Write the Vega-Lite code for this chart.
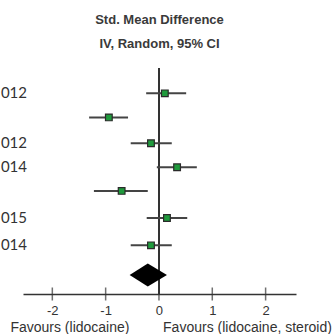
{
  "$schema": "https://vega.github.io/schema/vega-lite/v6.json",
  "autosize": "none",
  "width": 273,
  "height": 226,
  "padding": {"left": 23, "top": 68, "right": 40, "bottom": 40},
  "background": "white",
  "title": {
    "text": "Std. Mean Difference",
    "subtitle": "IV, Random, 95% CI",
    "anchor": "middle",
    "font": "Liberation Sans",
    "fontSize": 13,
    "fontWeight": "bold",
    "color": "#3a3a3a",
    "subtitleFont": "Liberation Sans",
    "subtitleFontSize": 13,
    "subtitleFontWeight": "bold",
    "subtitleColor": "#3a3a3a",
    "subtitlePadding": 11,
    "offset": 16
  },
  "config": {"view": {"stroke": null}},
  "datasets": {
    "studies": [
      {"study": "012", "pos": 1.0, "smd": 0.11, "lo": -0.24, "hi": 0.51},
      {"study": "", "pos": 1.95, "smd": -0.94, "lo": -1.31, "hi": -0.58},
      {"study": "012", "pos": 2.97, "smd": -0.15, "lo": -0.53, "hi": 0.24},
      {"study": "014", "pos": 3.92, "smd": 0.34, "lo": -0.04, "hi": 0.71},
      {"study": "", "pos": 4.85, "smd": -0.7, "lo": -1.22, "hi": -0.21},
      {"study": "015", "pos": 5.92, "smd": 0.15, "lo": -0.23, "hi": 0.53},
      {"study": "014", "pos": 7.0, "smd": -0.15, "lo": -0.53, "hi": 0.24}
    ],
    "pooled": [
      {"x": -0.55, "top": 8.17, "bottom": 8.17},
      {"x": -0.21, "top": 7.72, "bottom": 8.62},
      {"x": 0.15, "top": 8.17, "bottom": 8.17}
    ],
    "ticks": [{"v": -2}, {"v": -1}, {"v": 0}, {"v": 1}, {"v": 2}],
    "favours": [
      {"x": -1.67, "label": "Favours (lidocaine)"},
      {"x": 1.66, "label": "Favours (lidocaine, steroid)"}
    ]
  },
  "layer": [
    {
      "data": {"name": "ticks"},
      "mark": {"type": "rule", "color": "#333", "strokeWidth": 1.5},
      "encoding": {
        "x": {
          "datum": 0,
          "type": "quantitative",
          "scale": {"domain": [-2.55, 2.57], "nice": false, "zero": false},
          "axis": {
            "values": [-2, -1, 0, 1, 2],
            "labelExpr": "'' + datum.value",
            "ticks": false,
            "grid": false,
            "domainColor": "#333",
            "domainWidth": 1.5,
            "labelFont": "Liberation Sans",
            "labelFontSize": 13,
            "labelColor": "#333",
            "labelPadding": 10,
            "title": null
          }
        }
      }
    },
    {
      "data": {"name": "ticks"},
      "mark": {"type": "tick", "orient": "vertical", "size": 13, "thickness": 1.5, "color": "#333"},
      "encoding": {
        "x": {"field": "v", "type": "quantitative"},
        "y": {
          "datum": 8.92,
          "type": "quantitative",
          "scale": {"domain": [0, 8.92], "nice": false, "zero": false, "reverse": true},
          "axis": null
        }
      }
    },
    {
      "data": {"name": "studies"},
      "mark": {"type": "rule", "color": "#444", "strokeWidth": 2},
      "encoding": {
        "x": {"field": "lo", "type": "quantitative"},
        "x2": {"field": "hi"},
        "y": {"field": "pos", "type": "quantitative"}
      }
    },
    {
      "data": {"name": "studies"},
      "mark": {"type": "point", "shape": "square", "filled": true, "size": 45, "color": "#1f9a3c", "stroke": "#2a2a2a", "strokeWidth": 1.2, "opacity": 1},
      "encoding": {
        "x": {"field": "smd", "type": "quantitative"},
        "y": {"field": "pos", "type": "quantitative"}
      }
    },
    {
      "data": {"name": "studies"},
      "mark": {"type": "text", "align": "right", "baseline": "middle", "font": "Lato", "fontSize": 15, "color": "#333", "dx": 4},
      "encoding": {
        "x": {"datum": -2.55, "type": "quantitative"},
        "y": {"field": "pos", "type": "quantitative"},
        "text": {"field": "study"}
      }
    },
    {
      "data": {"name": "pooled"},
      "mark": {"type": "area", "color": "black", "orient": "vertical"},
      "encoding": {
        "x": {"field": "x", "type": "quantitative"},
        "y": {"field": "top", "type": "quantitative"},
        "y2": {"field": "bottom"}
      }
    },
    {
      "data": {"name": "favours"},
      "mark": {"type": "text", "align": "center", "baseline": "middle", "font": "Liberation Sans", "fontSize": 14, "color": "#333"},
      "encoding": {
        "x": {"field": "x", "type": "quantitative"},
        "y": {"datum": 10.26, "type": "quantitative"},
        "text": {"field": "label"}
      }
    }
  ]
}
